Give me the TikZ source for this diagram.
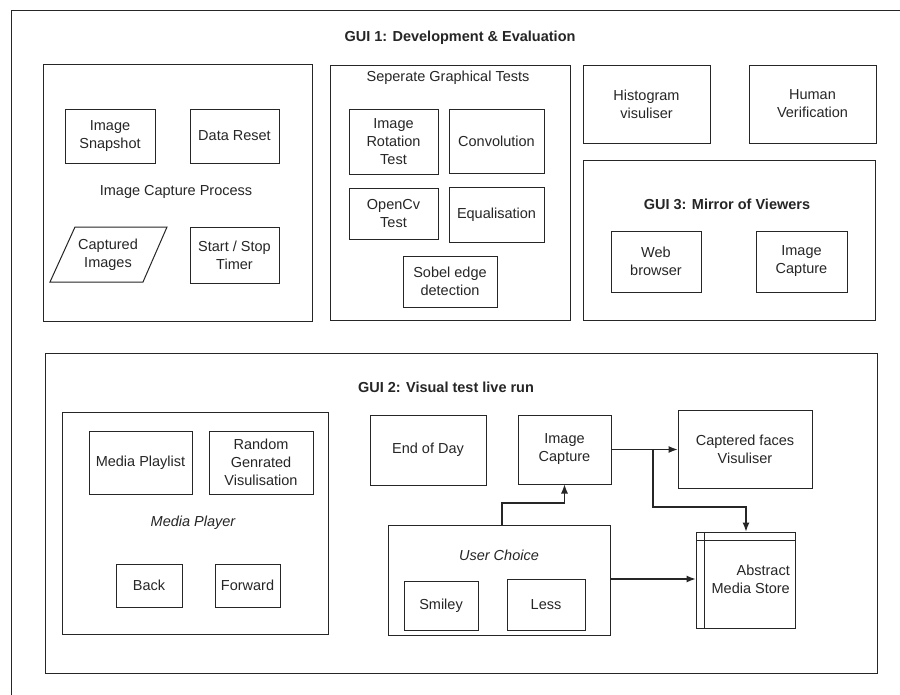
\documentclass[tikz,border=0pt]{standalone}
\usepackage{fontspec}
\setmainfont{Liberation Sans}
\usetikzlibrary{arrows.meta}
\begin{document}
\begin{tikzpicture}[x=1pt,y=-1pt,
  txt/.style={font=\fontsize{14.5}{18}\selectfont, text=black!85, align=center, inner sep=0pt},
  ttl/.style={font=\fontsize{14.5}{18}\selectfont\bfseries, text=black!85, inner sep=0pt},
  ital/.style={txt, font=\fontsize{14.5}{18}\selectfont\itshape},
  box/.style={draw=black!85, line width=1pt, rectangle, txt},
  grp/.style={draw=black!85, line width=1pt, rectangle, inner sep=0pt},
  arr/.style={draw=black!85, line width=1.1pt, -{Latex[length=9pt,width=7pt]}},
  ln/.style={draw=black!85, line width=1pt}]
\useasboundingbox (0,0) rectangle (900,694);
\clip (0,0) rectangle (900,694);
\fill[white] (0,0) rectangle (900,694);

% page frame
\coordinate (frTR) at (905,10);
\coordinate (frTL) at (11,10);
\coordinate (frBL) at (11,700);
\draw[ln] (frTR) -- (frTL) -- (frBL);

% ---------------- GUI 1 ----------------
\node[ttl] (gui1) at (460,38) {GUI 1: Development \& Evaluation};

% image capture process
\node[grp, minimum width=269, minimum height=257] (icp) at (177.5,192.5) {};
\node[txt] (icplbl) at (176,192) {Image Capture Process};
\node[box, minimum width=90, minimum height=54] (snap) at (110,136) {Image\\Snapshot};
\node[box, minimum width=89, minimum height=54] (reset) at (234.5,136) {Data Reset};
\coordinate (ciBL) at (50,282);
\coordinate (ciBR) at (143,282);
\coordinate (ciTR) at (167,227);
\coordinate (ciTL) at (75,227);
\draw[ln] (ciBL) -- (ciBR) -- (ciTR) -- (ciTL) -- cycle;
\node[txt] (capimg) at (108,254.5) {Captured\\Images};
\node[box, minimum width=89, minimum height=56] (timer) at (234.5,255) {Start / Stop\\Timer};

% graphical tests
\node[grp, minimum width=240, minimum height=255] (sgt) at (450,192.5) {};
\node[txt] (sgtlbl) at (448,78) {Seperate Graphical Tests};
\node[box, minimum width=89, minimum height=65] (rot) at (393.5,141.5) {Image\\Rotation\\Test};
\node[box, minimum width=95, minimum height=64] (conv) at (496.5,141) {Convolution};
\node[box, minimum width=89, minimum height=51] (ocv) at (393.5,213.5) {OpenCv\\Test};
\node[box, minimum width=95, minimum height=55] (equ) at (496.5,214.5) {Equalisation};
\node[box, minimum width=94, minimum height=51] (sobel) at (450,281.5) {Sobel edge\\detection};

% viewers
\node[box, minimum width=127, minimum height=78] (hist) at (646.5,104) {Histogram\\visuliser};
\node[box, minimum width=127, minimum height=78] (human) at (812.5,104) {Human\\Verification};
\node[grp, minimum width=292, minimum height=160] (gui3) at (729,240) {};
\node[ttl] (gui3lbl) at (727,204) {GUI 3: Mirror of Viewers};
\node[box, minimum width=90, minimum height=61] (web) at (656,261.5) {Web\\browser};
\node[box, minimum width=91, minimum height=61] (icmir) at (801.5,261.5) {Image\\Capture};

% ---------------- GUI 2 ----------------
\node[grp, minimum width=832, minimum height=320] (gui2) at (461,513) {};
\node[ttl] (gui2lbl) at (446,387) {GUI 2: Visual test live run};

% media player
\node[grp, minimum width=266, minimum height=222] (mp) at (195,523) {};
\node[ital] (mplbl) at (193,523) {Media Player};
\node[box, minimum width=103, minimum height=63] (playlist) at (140.5,462.5) {Media Playlist};
\node[box, minimum width=104, minimum height=63] (rgv) at (261,462.5) {Random\\Genrated\\Visulisation};
\node[box, minimum width=66, minimum height=43] (back) at (149,585.5) {Back};
\node[box, minimum width=65, minimum height=43] (fwd) at (247.5,585.5) {Forward};

% live run
\node[box, minimum width=116, minimum height=70] (eod) at (428,450) {End of Day};
\node[box, minimum width=93, minimum height=69] (iclive) at (564.5,449.5) {Image\\Capture};
\node[grp, minimum width=222, minimum height=110] (uc) at (499,580) {};
\node[ital] (uclbl) at (499,555) {User Choice};
\node[box, minimum width=74, minimum height=49] (smiley) at (441,605.5) {Smiley};
\node[box, minimum width=78, minimum height=51] (less) at (546,604.5) {Less};
\node[box, minimum width=134, minimum height=78] (cfv) at (745,449) {Captered faces\\Visuliser};

% abstract media store (internal storage symbol)
\node[grp, minimum width=99, minimum height=96] (ams) at (745.5,580) {};
\coordinate (amsH) at (696,540);
\coordinate (amsV) at (704,532);
\draw[ln] (amsH) -- (amsH -| ams.east);
\draw[ln] (amsV) -- (amsV |- ams.south);
\node[txt, anchor=east, align=right] (amslbl) at (790,579) {Abstract\\Media Store};

% connectors
\coordinate (j1) at (502,503);
\draw[arr] (uc.north -| j1) -- (j1) -| (iclive.south);
\draw[arr] (iclive.east) -- (iclive.east -| cfv.west);
\coordinate (j2) at (653,449.5);
\coordinate (j3) at (746,507);
\draw[arr] (j2) |- (j3) -- (j3 |- ams.north);
\draw[arr] (uc.east |- amslbl) -- (amslbl -| ams.west);
\end{tikzpicture}
\end{document}
